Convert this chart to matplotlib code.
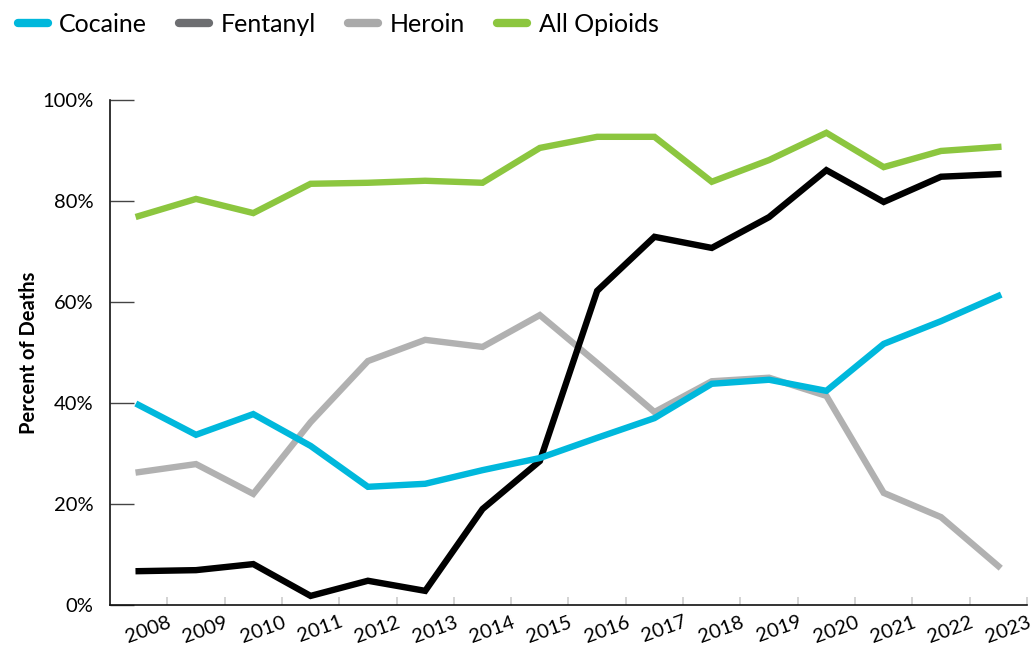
import matplotlib.pyplot as plt
import numpy as np
from matplotlib.lines import Line2D

# values, one point per year (plotted mid-year)
years = np.arange(2008, 2024)
cocaine = [39.6, 33.7, 37.8, 31.5, 23.4, 24.0, 26.7, 29.1, 33.1, 37.0, 43.8, 44.6, 42.4, 51.7, 56.2, 61.2]
fentanyl = [6.7, 6.9, 8.1, 1.8, 4.8, 2.8, 19.0, 28.5, 62.2, 72.9, 70.7, 76.8, 86.1, 79.8, 84.8, 85.3]
heroin = [26.3, 27.9, 22.0, 36.2, 48.3, 52.5, 51.1, 57.4, 47.9, 38.2, 44.3, 45.0, 41.4, 22.2, 17.4, 7.7]
all_opioids = [77.0, 80.4, 77.6, 83.4, 83.6, 84.0, 83.6, 90.5, 92.7, 92.7, 83.8, 88.1, 93.5, 86.7, 89.9, 90.7]

plt.rcParams['font.family'] = ['Lato', 'DejaVu Sans']

fig = plt.figure(figsize=(10.34, 6.49), dpi=100)
ax = fig.add_axes([0.1064, 0.0678, 0.8868, 0.7782])

x = years - 0.5
lw = 4.6
ax.plot(x, heroin, color='#b1b1b1', lw=lw, solid_joinstyle='miter', zorder=2)
ax.plot(x, fentanyl, color='#000000', lw=lw, solid_joinstyle='miter', zorder=3)
ax.plot(x, cocaine, color='#00b8dc', lw=lw, solid_joinstyle='miter', zorder=4)
ax.plot(x, all_opioids, color='#8cc63f', lw=lw, solid_joinstyle='miter', zorder=5)

ax.set_xlim(2007, 2023)
ax.set_ylim(0, 100)

ax.set_xticks(years)
ax.set_xticklabels([str(y) for y in years], rotation=20, ha='right',
                   rotation_mode='anchor', fontsize=14.5)
ax.tick_params(axis='x', direction='in', length=6, width=1.2, color='#cccccc', pad=6)

ax.set_yticks(np.arange(0, 101, 20))
ax.set_yticklabels([f'{v}%' for v in range(0, 101, 20)], fontsize=14.5)
ax.tick_params(axis='y', direction='in', length=17, width=1.0, color='#444444', pad=12)

for s in ['top', 'right']:
    ax.spines[s].set_visible(False)
for s in ['left', 'bottom']:
    ax.spines[s].set_linewidth(1.2)
    ax.spines[s].set_color('#111111')

ax.set_ylabel('Percent of Deaths', fontsize=14.5, fontweight='bold', labelpad=2)

# legend with rounded handles
handles = [
    Line2D([], [], color='#00b8dc', lw=6, solid_capstyle='round'),
    Line2D([], [], color='#6d6e71', lw=6, solid_capstyle='round'),
    Line2D([], [], color='#aaaaaa', lw=6, solid_capstyle='round'),
    Line2D([], [], color='#8cc63f', lw=6, solid_capstyle='round'),
]
fig.legend(handles, ['Cocaine', 'Fentanyl', 'Heroin', 'All Opioids'],
           loc='upper left', bbox_to_anchor=(0.005, 1.0), ncol=4, frameon=False,
           fontsize=18, handlelength=1.2, handletextpad=0.45, columnspacing=1.3,
           borderaxespad=0.1)

fig.savefig('out.png', dpi=100)
